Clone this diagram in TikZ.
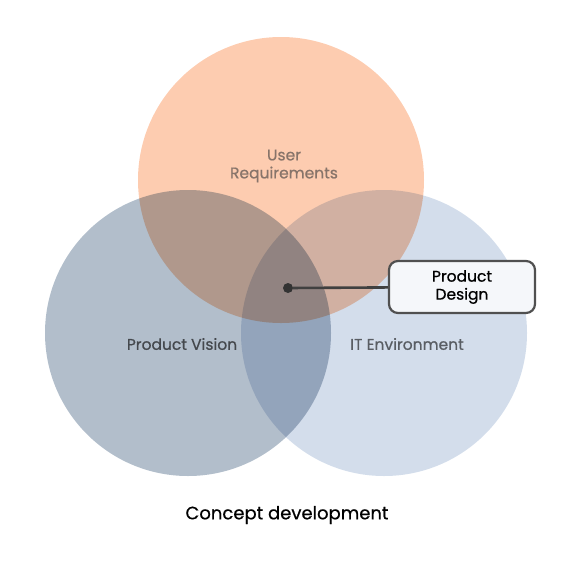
\documentclass[tikz,border=0pt]{standalone}
\usepackage{fontspec}
\setmainfont{Poppins}[FakeBold=0.6]
\usetikzlibrary{positioning}
\definecolor{userpeach}{HTML}{FDCCB0}
\definecolor{visionblue}{HTML}{B2BECB}
\definecolor{itblue}{HTML}{D3DDEB}
\definecolor{usertext}{HTML}{87746A}
\definecolor{boxline}{HTML}{505050}
\definecolor{boxfill}{HTML}{F5F7FA}
\tikzset{
  setlabel/.style = {font=\fontsize{15.5}{18}\selectfont, align=center},
  designbox/.style = {draw=boxline, line width=2.2pt, fill=boxfill, rounded corners=9pt,
    minimum width=146pt, minimum height=52pt, align=center, font=\fontsize{15.5}{18}\selectfont},
  hub/.style = {circle, fill=black!80, inner sep=0pt, minimum size=10pt}
}

\begin{document}
\begin{tikzpicture}[x=1pt, y=-1pt]
\useasboundingbox (0,0) rectangle (570,560);
\begin{scope}[blend group=multiply]
\fill [userpeach] (281,180) circle (143);
\fill [visionblue] (188,333) circle (143);
\fill [itblue] (384,333) circle (143);
\end{scope}
\node [setlabel, text=usertext] (user) at (284,166) {User\\Requirements};
\node [setlabel, text=black!62!visionblue] (vision) at (182,344) {Product Vision};
\node [setlabel, text=black!58!itblue] (it) at (407,344) {IT Environment};
\node [hub] (core) at (288,288) {};
\node [designbox] (design) at (462,287) {Product\\Design};
\draw [black!75, line width=2.6pt] (core) -- (design);
\node [font=\fontsize{18}{21}\selectfont] (title) at (287,515) {Concept development};
\end{tikzpicture}
\end{document}
